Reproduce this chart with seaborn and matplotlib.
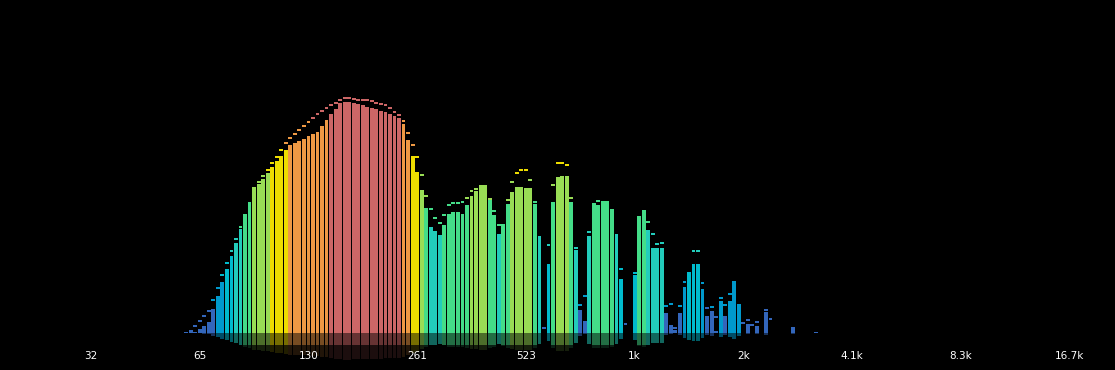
import matplotlib
matplotlib.use("Agg")
import matplotlib.pyplot as plt
import pandas as pd
import seaborn as sns

# 1/24-octave analyzer bands, numbered from C1 (32.7 Hz) = band 0
bands = list(range(21, 161))

# bar levels (0-100 scale, one gradient colour per 10 units)
levels = [
    0.0, 0.2, 0.2, 1.5, 2.6, 4.1, 9.0, 13.8, 19.1, 23.9,
    28.8, 33.6, 39.0, 44.4, 49.0, 53.7, 55.8, 57.7, 59.8, 62.1,
    64.3, 66.3, 68.4, 70.3, 71.1, 71.8, 72.5, 73.6, 74.5, 75.1,
    77.4, 79.6, 82.0, 83.9, 86.1, 86.5, 86.4, 85.9, 85.5, 85.1,
    84.5, 84.1, 83.7, 83.1, 82.6, 81.9, 81.2, 80.3, 78.2, 72.1,
    66.3, 60.2, 53.5, 46.7, 39.6, 38.1, 36.6, 40.4, 44.5, 45.2,
    45.2, 44.5, 47.9, 51.2, 53.1, 55.2, 55.2, 49.8, 44.1, 37.0,
    40.7, 48.2, 52.7, 54.6, 54.6, 54.2, 54.2, 48.2, 36.3, 0.0,
    25.8, 49.0, 58.3, 58.7, 58.7, 49.0, 31.0, 8.6, 4.5, 36.3,
    47.9, 47.9, 49.3, 49.3, 46.4, 36.9, 20.2, 0.0, 0.0, 21.7,
    43.0, 45.9, 38.5, 31.8, 31.8, 31.9, 7.5, 3.0, 1.1, 7.5,
    17.2, 22.8, 25.8, 25.8, 16.4, 6.4, 8.2, 0.7, 12.0, 6.4,
    12.0, 19.3, 10.8, 0.0, 3.4, 0.0, 2.6, 0.0, 7.9, 0.0,
    0.0, 0.0, 0.0, 0.0, 2.2, 0.0, 0.0, 0.0, 0.0, 0.0,
]

# peak-hold levels
peaks = [
    0.4, 1.1, 2.9, 4.9, 6.6, 8.6, 12.8, 17.3, 22.1, 26.4,
    30.9, 35.4, 40.0, 44.6, 49.0, 54.5, 56.8, 59.1, 61.4, 63.9,
    66.3, 68.7, 71.3, 73.3, 74.8, 76.3, 77.9, 79.3, 80.7, 82.1,
    83.4, 84.5, 85.5, 86.5, 87.6, 88.1, 88.1, 87.7, 87.6, 87.5,
    87.4, 87.0, 86.5, 86.1, 85.5, 84.4, 83.1, 81.9, 79.7, 75.3,
    70.8, 66.3, 59.4, 51.5, 46.7, 43.4, 41.5, 44.6, 48.2, 49.0,
    49.0, 49.3, 50.8, 53.6, 54.2, 55.2, 55.2, 50.5, 45.9, 40.9,
    40.7, 50.0, 56.8, 60.2, 61.3, 61.3, 57.7, 49.5, 36.3, 2.2,
    33.4, 55.7, 63.9, 63.9, 63.1, 51.0, 32.1, 11.0, 14.1, 38.1,
    48.7, 49.6, 49.3, 49.3, 46.4, 36.9, 24.4, 3.9, 0.0, 22.7,
    43.7, 45.9, 41.8, 37.5, 33.8, 33.9, 10.6, 11.3, 2.4, 10.4,
    19.3, 22.8, 30.9, 31.0, 19.0, 9.7, 10.1, 6.2, 13.6, 10.7,
    15.1, 19.3, 10.8, 4.0, 5.1, 3.4, 4.4, 0.0, 9.0, 5.7,
    0.0, 0.0, 0.0, 0.0, 2.2, 0.0, 0.0, 0.0, 0.0, 0.4,
]

tick_bands = [0, 24, 48, 72, 96, 120, 144, 168, 192, 216]
tick_labels = ["32", "65", "130", "261", "523", "1k", "2k", "4.1k", "8.3k", "16.7k"]

# "prism" gradient, bottom to top
gradient = ["#3366bb", "#0099cc", "#00bbcc", "#22ccbb", "#44dd88",
            "#99dd55", "#eedd00", "#ee9944", "#cc6666", "#aa3355"]


def level_color(v):
    return gradient[min(int(v // 10), 9)]


sns.set_theme(style="dark", rc={"axes.facecolor": "black", "figure.facecolor": "black"})
plt.rcParams["font.family"] = ["DejaVu Sans"]

fig = plt.figure(figsize=(11.15, 3.70), dpi=100)
ax = fig.add_axes([0, 0, 1, 1])
ax.set_facecolor("black")

CAP = 0.75
df = pd.DataFrame({"band": bands, "level": levels, "peak": peaks})
df["cap_floor"] = (df["peak"] - CAP).clip(lower=0)
df["reflex"] = -df["level"] * 0.115

bar_pal = {b: level_color(v) for b, v in zip(bands, levels)}
peak_pal = {b: level_color(v) for b, v in zip(bands, peaks)}
black_pal = {b: "black" for b in bands}

common = dict(data=df, x="band", hue="band", native_scale=True, dodge=False,
              legend=False, errorbar=None, saturation=1, linewidth=0, ax=ax)

# peak caps (cap-coloured column, then blacked out below the cap)
sns.barplot(y="peak", palette=peak_pal, width=0.85, **common)
sns.barplot(y="cap_floor", palette=black_pal, width=1.0, **common)
# bars
sns.barplot(y="level", palette=bar_pal, width=0.85, **common)
# reflection
sns.barplot(y="reflex", palette=bar_pal, width=0.85, alpha=0.5, **common)

PX = 2.675  # pixels per level unit
ax.set_ylim(-37 / PX, 333 / PX)
ax.set_xlim(-91 / 4.53, (1115 - 91) / 4.53)

# scale background
ax.axhspan(-37 / PX, -12 / PX, color="black", alpha=0.72, zorder=5, lw=0)

for b, lab in zip(tick_bands, tick_labels):
    ax.text(b, -23 / PX, lab, color="white", fontsize=7.5,
            ha="center", va="center", zorder=6)

ax.axis("off")
fig.savefig("out.png", dpi=100, facecolor="black")
